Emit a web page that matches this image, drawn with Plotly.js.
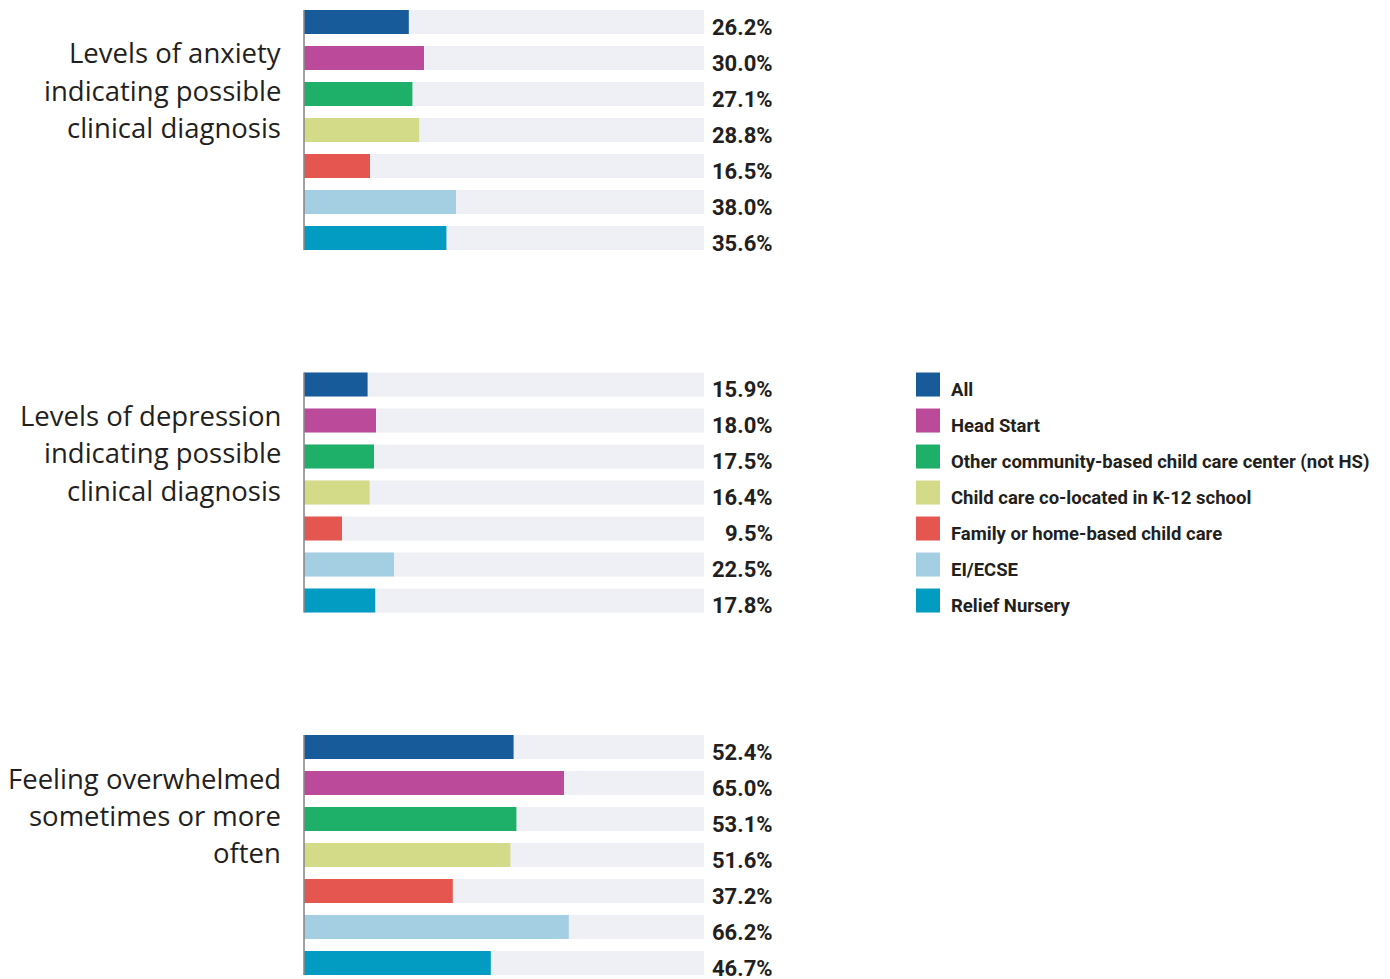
<!DOCTYPE html>
<html>
<head>
<meta charset="utf-8">
<script src="https://cdn.plot.ly/plotly-3.0.1.min.js"></script>
<style>html,body{margin:0;padding:0;background:#fff;}#chart{width:1390px;height:979px;}</style>
</head>
<body>
<div id="chart"></div>
<script>
// ---- data ----
const measures = [
  ["Levels of anxiety", "indicating possible", "clinical diagnosis"],
  ["Levels of depression", "indicating possible", "clinical diagnosis"],
  ["Feeling overwhelmed", "sometimes or more", "often"]
];
const seriesNames = [
  "All",
  "Head Start",
  "Other community-based child care center (not HS)",
  "Child care co-located in K-12 school",
  "Family or home-based child care",
  "EI/ECSE",
  "Relief Nursery"
];
const allValues        = [26.2, 15.9, 52.4];
const headStartValues  = [30.0, 18.0, 65.0];
const otherValues      = [27.1, 17.5, 53.1];
const coLocatedValues  = [28.8, 16.4, 51.6];
const familyValues     = [16.5, 9.5, 37.2];
const eiecseValues     = [38.0, 22.5, 66.2];
const reliefValues     = [35.6, 17.8, 46.7];
const seriesValues = [allValues, headStartValues, otherValues, coLocatedValues, familyValues, eiecseValues, reliefValues];
const fullScale = 100;

// ---- styles ----
const colors = ["#185b9b", "#bb4a9b", "#1eaf69", "#d3da88", "#e55650", "#a4cfe3", "#029cc3"];
const trackColor = "#eff0f6";
const textColor = "#231f20";
const FONT = "Roboto, 'Open Sans', sans-serif";
const LABEL_FONT = "'Open Sans', Roboto, sans-serif";

// ---- layout geometry (in axis units: 1 unit = one bar slot) ----
const groupStep = 10.07;
const barW = 0.667;
const yPos = (g, i) => g * groupStep + i;

const traces = [];
// background tracks
const trackY = [];
measures.forEach((m, g) => seriesNames.forEach((s, i) => trackY.push(yPos(g, i))));
traces.push({
  type: "bar", orientation: "h",
  x: trackY.map(() => fullScale), y: trackY,
  width: barW, marker: {color: trackColor, line: {width: 0}},
  hoverinfo: "skip", showlegend: false
});
seriesNames.forEach((name, i) => {
  traces.push({
    type: "bar", orientation: "h", name: name,
    x: seriesValues[i],
    y: measures.map((m, g) => yPos(g, i)),
    width: barW,
    marker: {color: colors[i], line: {width: 0}},
    showlegend: false
  });
});

const annotations = [];
const shapes = [];
// value labels
seriesNames.forEach((name, i) => {
  seriesValues[i].forEach((v, g) => {
    annotations.push({
      x: 117.8, y: yPos(g, i) + 0.14, xref: "x", yref: "y",
      text: v.toFixed(1) + "%", showarrow: false, xanchor: "right", yanchor: "middle",
      font: {family: FONT, size: 22, color: textColor, weight: 700}
    });
  });
});
// category labels
measures.forEach((lines, g) => {
  lines.forEach((line, k) => {
    annotations.push({
      x: -5.3, y: g * groupStep + 0.86 + 1.04 * k, xref: "x", yref: "y",
      text: line, showarrow: false, xanchor: "right", yanchor: "middle",
      font: {family: LABEL_FONT, size: 27.5, color: textColor, weight: 500}
    });
  });
  // axis line per group
  shapes.push({
    type: "line", xref: "x", yref: "y",
    x0: 0, x1: 0, y0: yPos(g, 0) - barW / 2, y1: yPos(g, seriesNames.length - 1) + barW / 2,
    line: {color: "#8a8a8a", width: 1.6}
  });
});
// legend (drawn at middle group's rows)
seriesNames.forEach((name, i) => {
  const yc = yPos(1, i);
  shapes.push({
    type: "rect", xref: "x", yref: "y",
    x0: 153, x1: 159, y0: yc - barW / 2, y1: yc + barW / 2,
    fillcolor: colors[i], line: {width: 0}
  });
  annotations.push({
    x: 161.2, y: yc + 0.14, xref: "x", yref: "y",
    text: name, showarrow: false, xanchor: "left", yanchor: "middle",
    font: {family: FONT, size: 18.5, color: textColor, weight: 700}
  });
});

const layout = {
  width: 1390, height: 979,
  margin: {l: 0, r: 0, t: 0, b: 0},
  paper_bgcolor: "#ffffff", plot_bgcolor: "#ffffff",
  barmode: "overlay",
  showlegend: false,
  xaxis: {range: [-76, 271.5], showgrid: false, zeroline: false, showline: false, showticklabels: false, ticks: "", fixedrange: true},
  yaxis: {range: [26.583, -0.611], showgrid: false, zeroline: false, showline: false, showticklabels: false, ticks: "", fixedrange: true},
  annotations: annotations,
  shapes: shapes,
  font: {family: FONT, color: textColor}
};

Plotly.newPlot("chart", traces, layout, {displayModeBar: false, staticPlot: true});
</script>
</body>
</html>
